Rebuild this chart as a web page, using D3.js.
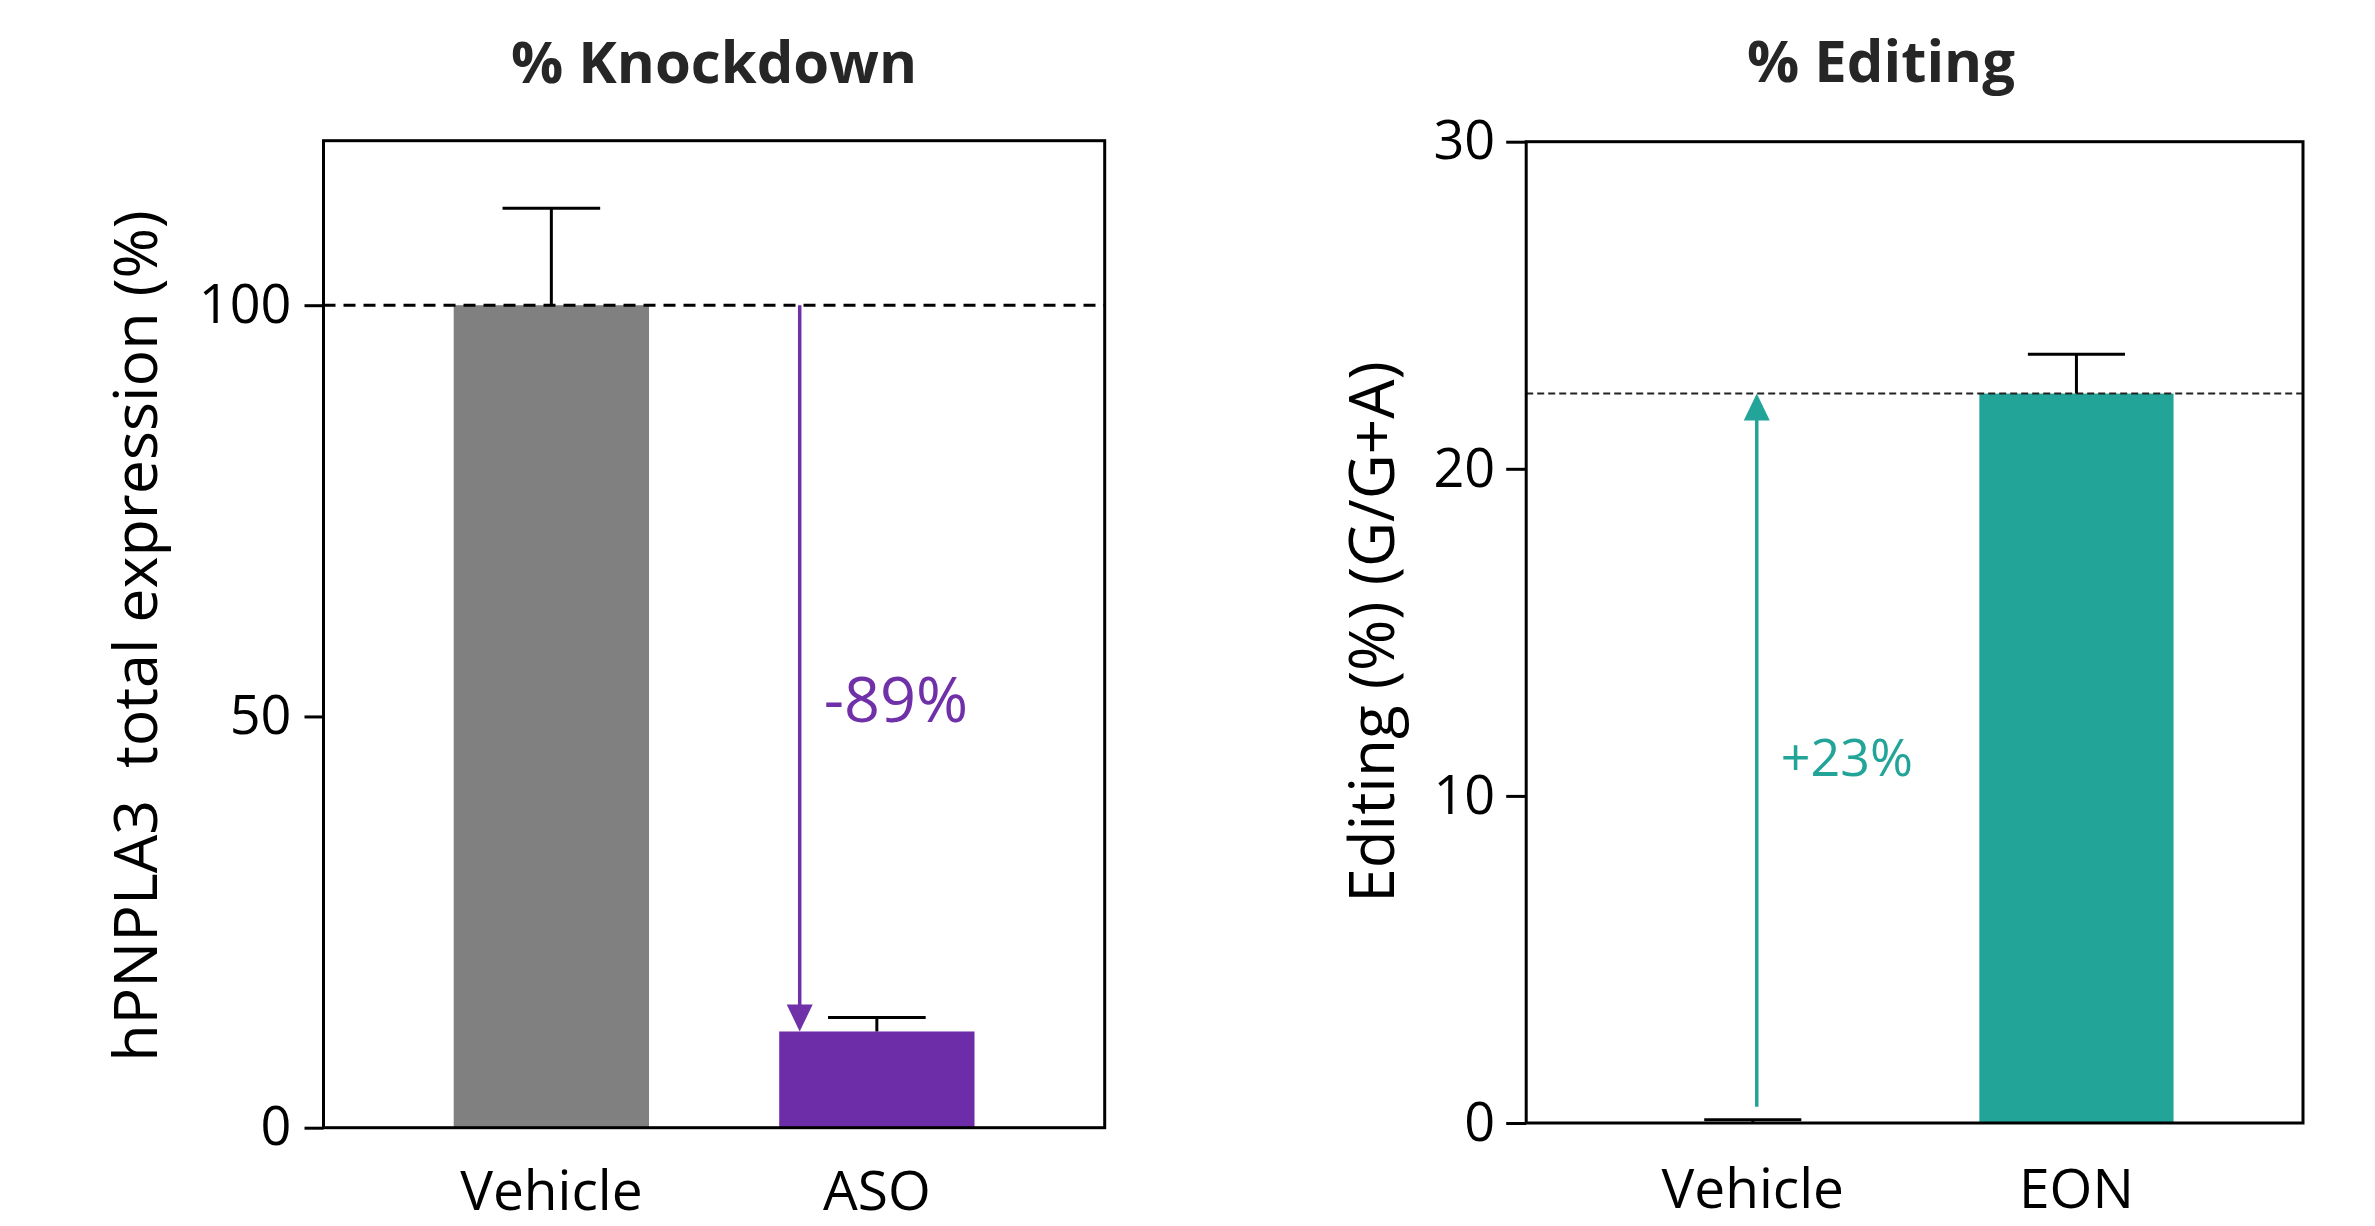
<!DOCTYPE html>
<html>
<head>
<meta charset="utf-8">
<script src="https://cdn.jsdelivr.net/npm/d3@7"></script>
<style>
  html, body { margin: 0; padding: 0; background: #fff; }
  svg { display: block; }
  text { font-family: "Open Sans", "Noto Sans", sans-serif; }
</style>
</head>
<body>
<svg id="chart" width="2375" height="1226"></svg>
<script>
// ---------- data ----------
const knockCategories = ["Vehicle", "ASO"];
const knockMeans = [100, 11.7];
const knockErrors = [11.8, 1.7];
const knockTicks = [0, 50, 100];
const knockTitle = "% Knockdown";
const knockYLabel = "hPNPLA3\u00a0\u00a0total expression (%)";
const knockDelta = "-89%";

const editCategories = ["Vehicle", "EON"];
const editMeans = [0.02, 22.3];
const editErrors = [0.08, 1.2];
const editTicks = [0, 10, 20, 30];
const editTitle = "% Editing";
const editYLabel = "Editing (%) (G/G+A)";
const editDelta = "+23%";

// ---------- drawing ----------
const svg = d3.select("#chart");

function panel(opts) {
  const g = svg.append("g");
  const x = d3.scaleBand().domain(opts.categories).range([opts.x0, opts.x1])
    .paddingInner(0.4).paddingOuter(0.4);
  const y = d3.scaleLinear().domain(opts.domain).range([opts.y0, opts.y1]);

  // bars
  g.selectAll("rect.bar").data(opts.categories).join("rect")
    .attr("class", "bar")
    .attr("x", d => x(d))
    .attr("width", x.bandwidth())
    .attr("y", (d, i) => y(opts.means[i]))
    .attr("height", (d, i) => y(0) - y(opts.means[i]))
    .attr("fill", (d, i) => opts.colors[i]);

  // reference dashed line
  g.append("line")
    .attr("x1", opts.x0).attr("x2", opts.x1)
    .attr("y1", y(opts.refValue)).attr("y2", y(opts.refValue))
    .attr("stroke", opts.refColor).attr("stroke-width", opts.refWidth)
    .attr("stroke-dasharray", opts.refDash);

  // error bars
  const eb = g.selectAll("g.err").data(opts.categories).join("g").attr("class", "err");
  eb.append("line")
    .attr("x1", d => x(d) + x.bandwidth() / 2).attr("x2", d => x(d) + x.bandwidth() / 2)
    .attr("y1", (d, i) => y(opts.means[i]))
    .attr("y2", (d, i) => y(opts.means[i] + opts.errors[i]))
    .attr("stroke", "#000").attr("stroke-width", 3);
  eb.append("line")
    .attr("x1", d => x(d) + x.bandwidth() / 4).attr("x2", d => x(d) + x.bandwidth() * 3 / 4)
    .attr("y1", (d, i) => y(opts.means[i] + opts.errors[i]))
    .attr("y2", (d, i) => y(opts.means[i] + opts.errors[i]))
    .attr("stroke", "#000").attr("stroke-width", 3);

  // frame
  g.append("rect")
    .attr("x", opts.x0).attr("y", opts.y1)
    .attr("width", opts.x1 - opts.x0).attr("height", opts.y0 - opts.y1)
    .attr("fill", "none").attr("stroke", "#000").attr("stroke-width", 3);

  // y axis
  const ya = g.append("g").attr("transform", `translate(${opts.x0},0)`)
    .call(d3.axisLeft(y).tickValues(opts.ticks).tickSize(opts.tickSize).tickPadding(opts.tickPad));
  ya.select(".domain").remove();
  ya.selectAll(".tick line").attr("stroke", "#000").attr("stroke-width", 3);
  ya.selectAll(".tick text").attr("fill", "#000")
    .style("font-size", "54px").style("font-family", "'Open Sans', sans-serif");

  // x axis
  const xa = g.append("g").attr("transform", `translate(0,${opts.y0})`)
    .call(d3.axisBottom(x).tickSize(0).tickPadding(opts.xPad));
  xa.select(".domain").remove();
  xa.selectAll(".tick text").attr("fill", "#000")
    .style("font-size", "55px").style("font-family", "'Open Sans', sans-serif");

  // title
  g.append("text")
    .attr("x", opts.titleX).attr("y", opts.titleY)
    .attr("text-anchor", "middle")
    .attr("fill", "#262626")
    .style("font-weight", "700").style("font-size", "58px")
    .text(opts.title);

  // y label
  g.append("text")
    .attr("transform", `translate(${opts.ylabX},${opts.ylabY}) rotate(-90)`)
    .attr("text-anchor", "middle")
    .attr("fill", "#000")
    .style("font-size", opts.ylabSize + "px")
    .text(opts.ylabel);

  // arrow
  const ax = opts.arrowX(x);
  const a = opts.arrow;
  const tip = y(a.to);
  const dir = a.to < a.from ? 1 : -1; // 1 = pointing down
  const headLen = 27, headHalf = 13;
  g.append("line")
    .attr("x1", ax).attr("x2", ax)
    .attr("y1", y(a.from)).attr("y2", tip - dir * headLen + dir * 2)
    .attr("stroke", a.color).attr("stroke-width", 3.5);
  g.append("path")
    .attr("d", `M${ax - headHalf},${tip - dir * headLen} L${ax + headHalf},${tip - dir * headLen} L${ax},${tip} Z`)
    .attr("fill", a.color);

  g.append("text")
    .attr("x", ax + opts.deltaDx).attr("y", y(opts.deltaY))
    .attr("fill", a.color)
    .style("font-size", opts.deltaSize + "px")
    .text(opts.delta);
}

panel({
  categories: knockCategories, means: knockMeans, errors: knockErrors,
  ticks: knockTicks, domain: [0, 120],
  x0: 323.5, x1: 1104.7, y0: 1127.7, y1: 140.7,
  colors: ["#808080", "#6e2da8"],
  refValue: knockMeans[0], refColor: "#000", refWidth: 3, refDash: "12,8",
  tickSize: 19, tickPad: 13, xPad: 43,
  title: knockTitle, titleX: 714, titleY: 83,
  ylabel: knockYLabel, ylabX: 157, ylabY: 636, ylabSize: 61,
  arrowX: x => x("ASO") + 20.5,
  arrow: { from: knockMeans[0], to: knockMeans[1], color: "#7030a8" },
  delta: knockDelta, deltaDx: 24, deltaY: 49.3, deltaSize: 63
});

panel({
  categories: editCategories, means: editMeans, errors: editErrors,
  ticks: editTicks, domain: [0, 30],
  x0: 1526.2, x1: 2303, y0: 1123, y1: 141.7,
  colors: ["#23a499", "#23a499"],
  refValue: editMeans[1], refColor: "#222", refWidth: 2, refDash: "7,4",
  tickSize: 20, tickPad: 11, xPad: 46,
  title: editTitle, titleX: 1881, titleY: 82,
  ylabel: editYLabel, ylabX: 1394, ylabY: 632, ylabSize: 62,
  arrowX: x => x("Vehicle") + x.bandwidth() / 2 + 4,
  arrow: { from: 0.5, to: editMeans[1], color: "#23a499" },
  delta: editDelta, deltaDx: 24, deltaY: 10.6, deltaSize: 52
});
</script>
</body>
</html>
